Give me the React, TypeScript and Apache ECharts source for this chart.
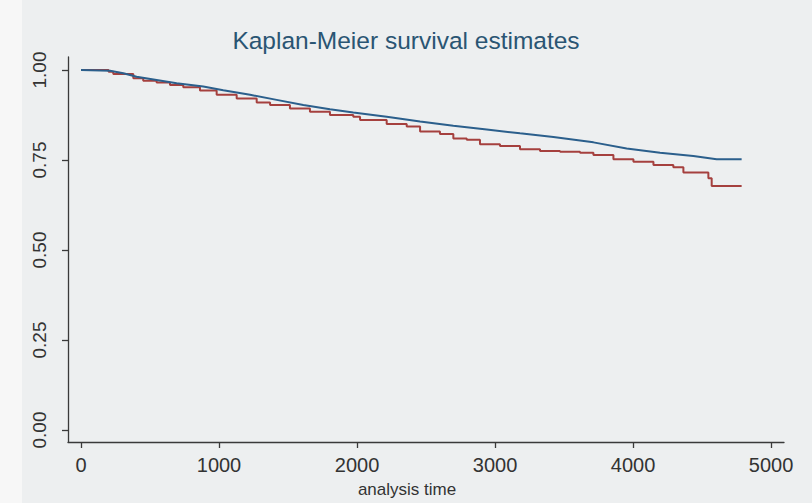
import React, { useEffect, useRef } from "react";
import * as echarts from "echarts";

const titleText = "Kaplan-Meier survival estimates";
const xAxisTitle = "analysis time";
const xTicks = [0, 1000, 2000, 3000, 4000, 5000];
const yTicks = [0, 0.25, 0.5, 0.75, 1];

// group 1 (blue)
const blueTimes = [0, 210, 307, 403, 548, 693, 886, 1031, 1225, 1418, 1611, 1804, 1973, 2215, 2457, 2698, 2940, 3181, 3423, 3616, 3713, 3954, 4196, 4437, 4606, 4787];
const blueSurv = [1, 0.998, 0.991, 0.981, 0.972, 0.963, 0.954, 0.944, 0.931, 0.917, 0.903, 0.891, 0.882, 0.87, 0.857, 0.845, 0.835, 0.824, 0.814, 0.804, 0.799, 0.782, 0.77, 0.761, 0.752, 0.752];

// group 2 (red)
const redTimes = [0, 200, 234, 379, 451, 548, 645, 741, 862, 983, 1128, 1273, 1370, 1514, 1659, 1804, 1973, 2022, 2215, 2360, 2457, 2601, 2698, 2795, 2891, 3036, 3181, 3326, 3471, 3616, 3713, 3858, 4003, 4148, 4292, 4365, 4546, 4570, 4787];
const redSurv = [1, 0.995, 0.989, 0.977, 0.97, 0.965, 0.958, 0.952, 0.943, 0.931, 0.921, 0.91, 0.903, 0.893, 0.884, 0.875, 0.87, 0.861, 0.85, 0.843, 0.829, 0.822, 0.81, 0.806, 0.794, 0.789, 0.78, 0.775, 0.773, 0.77, 0.764, 0.752, 0.745, 0.736, 0.73, 0.715, 0.699, 0.678, 0.678];

export default function App() {
  const ref = useRef<HTMLDivElement>(null);
  useEffect(() => {
    document.body.style.margin = "0";
    const chart = echarts.init(ref.current!, null, { renderer: "svg" });
    const axisColor = "#3a3a3a";
    chart.setOption({
      animation: false,
      backgroundColor: "#edeff0",
      textStyle: { fontFamily: "Liberation Sans, Arial, sans-serif" },
      graphic: [
        { type: "rect", shape: { x: 0, y: 0, width: 22, height: 503 }, style: { fill: "#f7f7f7" }, silent: true },
      ],
      title: [
        {
          text: titleText,
          left: 401,
          top: 23,
          textAlign: "center",
          textStyle: { fontSize: 24.5, fontWeight: "normal", color: "#2a5573" },
        },
        {
          text: xAxisTitle,
          left: 402,
          top: 476,
          textAlign: "center",
          textStyle: { fontSize: 17, fontWeight: "normal", color: "#333" },
        },
      ],
      grid: { left: 68, right: 28, top: 57, bottom: 61, containLabel: false },
      xAxis: {
        type: "value",
        min: -94.2,
        max: 5094,
        splitLine: { show: false },
        axisLine: { show: true, onZero: false, lineStyle: { color: axisColor, width: 1.3 } },
        axisTick: { show: true, customValues: xTicks, length: 6, lineStyle: { color: axisColor, width: 1.3 } },
        axisLabel: {
          customValues: xTicks,
          fontSize: 20,
          color: "#333",
          margin: 13,
          showMinLabel: true,
          showMaxLabel: true,
          formatter: (v: number) => String(v),
        },
      },
      yAxis: {
        type: "value",
        min: -0.0333,
        max: 1.0361,
        splitLine: { show: false },
        axisLine: { show: true, onZero: false, lineStyle: { color: axisColor, width: 1.3 } },
        axisTick: { show: true, customValues: yTicks, length: 6, lineStyle: { color: axisColor, width: 1.3 } },
        axisLabel: {
          customValues: yTicks,
          fontSize: 19,
          color: "#333",
          rotate: 90,
          margin: 19,
          formatter: (v: number) => v.toFixed(2),
        },
      },
      series: [
        {
          type: "line",
          data: blueTimes.map((t, i) => [t, blueSurv[i]]),
          showSymbol: false,
          lineStyle: { color: "#2b5f8c", width: 2 },
          z: 3,
        },
        {
          type: "line",
          step: "end",
          data: redTimes.map((t, i) => [t, redSurv[i]]),
          showSymbol: false,
          lineStyle: { color: "#a5403e", width: 2 },
          z: 2,
        },
      ],
    });
    return () => chart.dispose();
  }, []);
  return <div ref={ref} style={{ width: 812, height: 503 }} />;
}
